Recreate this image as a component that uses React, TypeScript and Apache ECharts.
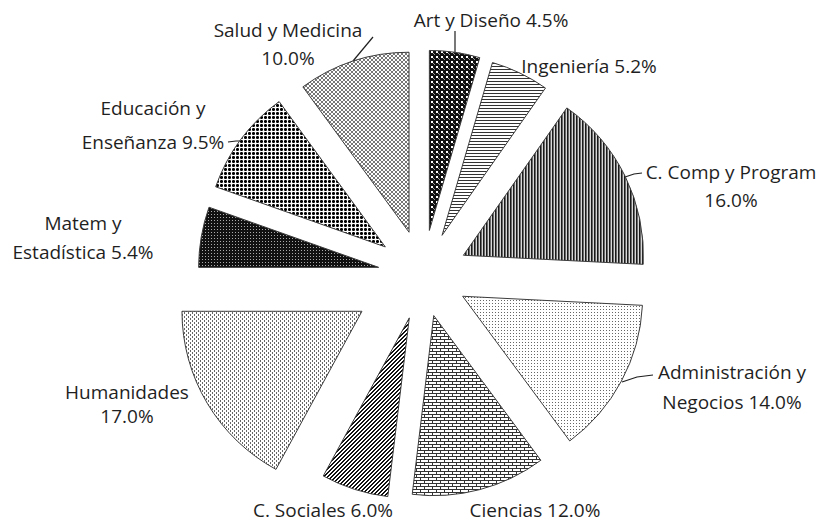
import React, { useEffect, useRef } from 'react';
import * as echarts from 'echarts';

// ---- data ----
const categories = [
  'Art y Diseño',
  'Ingeniería',
  'C. Comp y Program',
  'Administración y Negocios',
  'Ciencias',
  'C. Sociales',
  'Humanidades',
  'Matem y Estadística',
  'Educación y Enseñanza',
  'Salud y Medicina',
];
const shares = [4.5, 5.2, 16.0, 14.0, 12.0, 6.0, 17.0, 5.4, 9.5, 10.0];

// ---- layout / style ----
const CX = 423;
const CY = 275;
const RADIUS = 180;
const explode = [45, 44, 45, 45, 42, 45, 71, 45, 47, 45];
const labelPos: number[][] = [
  [491, 20], [589, 66], [731, 186], [732, 387], [535, 510],
  [323, 510], [127, 404], [83, 237], [153, 125], [288, 44],
];
const breakAfter: (number | null)[] = [null, null, 4, 2, null, null, 1, 2, 2, 3];
const lineHeights = [28, 28, 28, 30, 28, 28, 24, 29, 34, 28];
const leaders: Record<number, number[][]> = {
  0: [[455, 52], [455, 42], [455, 31]],
  2: [[625, 177], [634, 174], [642, 173]],
  3: [[622, 382], [637, 377], [653, 375]],
  8: [[243, 141], [236, 141], [228, 142]],
  9: [[353, 61], [363, 49], [373, 37]],
};

function tile(w: number, h: number, bg: string, draw: (ctx: CanvasRenderingContext2D) => void) {
  const c = document.createElement('canvas');
  c.width = w;
  c.height = h;
  const ctx = c.getContext('2d')!;
  ctx.fillStyle = bg;
  ctx.fillRect(0, 0, w, h);
  draw(ctx);
  return { image: c, repeat: 'repeat', imageWidth: w, imageHeight: h } as any;
}

function px(ctx: CanvasRenderingContext2D, color: string, pts: number[][]) {
  ctx.fillStyle = color;
  pts.forEach(([x, y]) => ctx.fillRect(x, y, 1, 1));
}

function makePatterns() {
  return [
    // Art y Diseño: dark with white dots
    tile(5, 5, '#111', (ctx) => {
      ctx.fillStyle = '#fff';
      ctx.fillRect(1, 1, 2, 2);
      px(ctx, '#999', [[3, 3], [4, 4]]);
    }),
    // Ingeniería: horizontal lines
    tile(4, 3, '#fff', (ctx) => {
      ctx.fillStyle = '#333';
      ctx.fillRect(0, 0, 4, 1);
    }),
    // C. Comp: dark vertical lines
    tile(3, 4, '#fff', (ctx) => {
      ctx.fillStyle = '#1a1a1a';
      ctx.fillRect(0, 0, 1, 4);
      ctx.fillStyle = '#6a6a6a';
      ctx.fillRect(1, 0, 1, 4);
      ctx.fillStyle = '#d8d8d8';
      ctx.fillRect(2, 0, 1, 4);
    }),
    // Administración: fine dots
    tile(3, 3, '#fff', (ctx) => px(ctx, '#666', [[0, 0]])),
    // Ciencias: horizontal brick
    tile(8, 6, '#fff', (ctx) => {
      ctx.fillStyle = '#333';
      ctx.fillRect(0, 0, 8, 1);
      ctx.fillRect(0, 3, 8, 1);
      ctx.fillRect(0, 1, 1, 2);
      ctx.fillRect(4, 4, 1, 2);
    }),
    // C. Sociales: wide upward diagonal
    tile(4, 4, '#fff', (ctx) =>
      px(ctx, '#111', [[0, 3], [1, 2], [2, 1], [3, 0], [1, 3], [2, 2], [3, 1], [0, 0]])
    ),
    // Humanidades: dashed vertical
    tile(4, 4, '#fff', (ctx) => px(ctx, '#666', [[0, 0], [0, 1], [2, 2], [2, 3]])),
    // Matem: black with faint dots
    tile(3, 3, '#111', (ctx) => px(ctx, '#aaa', [[1, 1]])),
    // Educación: black dots grid
    tile(4, 4, '#fff', (ctx) => {
      px(ctx, '#000', [[1, 0], [0, 1], [1, 1], [2, 1], [1, 2]]);
      px(ctx, '#555', [[0, 0], [2, 0], [0, 2], [2, 2]]);
    }),
    // Salud: diagonal crosshatch
    tile(4, 4, '#fff', (ctx) =>
      px(ctx, '#777', [[0, 0], [1, 1], [2, 2], [3, 3], [3, 0], [2, 1], [1, 2], [0, 3]])
    ),
  ];
}

function labelText(i: number) {
  const words = `${categories[i]} ${shares[i].toFixed(1)}%`.split(' ');
  const b = breakAfter[i];
  if (b == null) return words.join(' ');
  return words.slice(0, b).join(' ') + '\n' + words.slice(b).join(' ');
}

export default function App() {
  const ref = useRef<HTMLDivElement>(null);
  useEffect(() => {
    const chart = echarts.init(ref.current!, null, { renderer: 'svg' });
    const patterns = makePatterns();
    const total = shares.reduce((a, b) => a + b, 0);
    let cum = 0;
    const series = shares.map((v, i) => {
      const mid = ((cum + v / 2) / total) * 2 * Math.PI;
      cum += v;
      const cx = CX + explode[i] * Math.sin(mid);
      const cy = CY - explode[i] * Math.cos(mid);
      const hasLeader = leaders[i] != null;
      return {
        type: 'pie',
        silent: true,
        startAngle: 90,
        clockwise: true,
        center: [cx, cy],
        radius: [0, RADIUS],
        avoidLabelOverlap: false,
        emphasis: { disabled: true },
        labelLayout: () => ({
          x: labelPos[i][0],
          y: labelPos[i][1],
          align: 'center',
          verticalAlign: 'middle',
          ...(hasLeader ? { labelLinePoints: leaders[i] } : {}),
        }),
        data: shares.map((w, j) => ({
          name: categories[j],
          value: w,
          itemStyle:
            j === i
              ? { color: patterns[i], borderColor: '#3c3c3c', borderWidth: 1 }
              : { color: 'rgba(0,0,0,0)', borderWidth: 0 },
          label:
            j === i
              ? {
                  show: true,
                  position: 'outside',
                  formatter: labelText(i),
                  fontFamily: 'Open Sans',
                  fontSize: 19,
                  color: '#1f1f1f',
                  lineHeight: lineHeights[i],
                  align: 'center',
                }
              : { show: false },
          labelLine:
            j === i && hasLeader
              ? { show: true, lineStyle: { color: '#1f1f1f', width: 1.2 } }
              : { show: false },
        })),
      };
    });
    chart.setOption({
      animation: false,
      backgroundColor: '#fff',
      series,
    } as any);
    return () => chart.dispose();
  }, []);
  return (
    <div
      ref={ref}
      style={{ position: 'fixed', left: 0, top: 0, width: 821, height: 523, background: '#fff' }}
    />
  );
}
